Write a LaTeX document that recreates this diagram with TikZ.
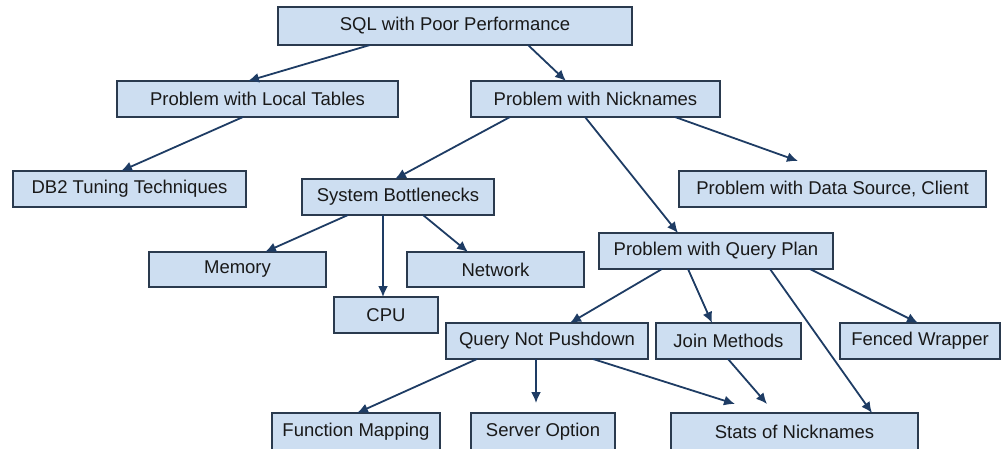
\documentclass[tikz,border=0pt]{standalone}
\usepackage{fontspec}
\setmainfont{Liberation Sans}
\usetikzlibrary{arrows.meta}
\definecolor{boxfill}{RGB}{205,222,241}
\definecolor{boxline}{RGB}{42,58,78}
\definecolor{arrowcol}{RGB}{30,60,100}
\tikzset{
  box/.style={draw=boxline, fill=boxfill, line width=1.6pt, anchor=north west,
    inner sep=0pt, outer sep=0pt, font=\fontsize{18.5}{21}\selectfont, text=black!90},
  conn/.style={draw=arrowcol, line width=1.8pt, -{Latex[length=11pt,width=10pt]}}
}
\begin{document}
\begin{tikzpicture}[x=1pt,y=-1pt]
\useasboundingbox (0,0) rectangle (1003,449);
% boxes
\node[box, minimum width=354pt, minimum height=38pt] (sql) at (278,7) {SQL with Poor Performance};
\node[box, minimum width=281pt, minimum height=36pt] (local) at (117,81) {Problem with Local Tables};
\node[box, minimum width=249pt, minimum height=36pt] (nick) at (471,81) {Problem with Nicknames};
\node[box, minimum width=233pt, minimum height=36pt] (db2) at (13,171) {DB2 Tuning Techniques};
\node[box, minimum width=192pt, minimum height=36pt] (sb) at (302,179) {System Bottlenecks};
\node[box, minimum width=307pt, minimum height=36pt] (ds) at (679,171) {Problem with Data Source, Client};
\node[box, minimum width=234pt, minimum height=36pt] (qp) at (599,233) {Problem with Query Plan};
\node[box, minimum width=177pt, minimum height=35pt] (mem) at (149,252) {Memory};
\node[box, minimum width=177pt, minimum height=35pt] (net) at (407,252) {Network};
\node[box, minimum width=104pt, minimum height=36pt] (cpu) at (334,297) {CPU};
\node[box, minimum width=202pt, minimum height=36pt] (qnp) at (446,323) {Query Not Pushdown};
\node[box, minimum width=145pt, minimum height=36pt] (join) at (656,323) {Join Methods};
\node[box, minimum width=160pt, minimum height=36pt] (fenced) at (840,323) {Fenced Wrapper};
\node[box, minimum width=168pt, minimum height=38pt] (fm) at (272,413) {Function Mapping};
\node[box, minimum width=144pt, minimum height=38pt] (so) at (471,413) {Server Option};
\node[box, minimum width=247pt, minimum height=38pt] (stats) at (671,413) {Stats of Nicknames};
% free arrow ends
\coordinate (dsend) at ([xshift=119pt,yshift=10pt]ds.north west);
\coordinate (soend) at ([xshift=65pt,yshift=10pt]so.north west);
\coordinate (st1end) at ([xshift=64pt,yshift=9pt]stats.north west);
\coordinate (st2end) at ([xshift=96pt,yshift=9pt]stats.north west);
% connectors
\draw[conn] ([xshift=92pt]sql.south west) -- ([xshift=131pt]local.north west);
\draw[conn] ([xshift=250pt]sql.south west) -- ([xshift=95pt]nick.north west);
\draw[conn] ([xshift=126pt]local.south west) -- ([xshift=108pt]db2.north west);
\draw[conn] ([xshift=39pt]nick.south west) -- ([xshift=93pt]sb.north west);
\draw[conn] ([xshift=114pt]nick.south west) -- ([xshift=79pt]qp.north west);
\draw[conn] ([xshift=204pt]nick.south west) -- (dsend);
\draw[conn] ([xshift=46pt]sb.south west) -- ([xshift=116pt]mem.north west);
\draw[conn] ([xshift=81pt]sb.south west) -- ([xshift=49pt]cpu.north west);
\draw[conn] ([xshift=121pt]sb.south west) -- ([xshift=61pt]net.north west);
\draw[conn] ([xshift=63pt]qp.south west) -- ([xshift=124pt]qnp.north west);
\draw[conn] ([xshift=89pt]qp.south west) -- ([xshift=56pt]join.north west);
\draw[conn] ([xshift=171pt]qp.south west) -- ([xshift=201pt]stats.north west);
\draw[conn] ([xshift=211pt]qp.south west) -- ([xshift=78pt]fenced.north west);
\draw[conn] ([xshift=31pt]qnp.south west) -- ([xshift=85pt]fm.north west);
\draw[conn] ([xshift=90pt]qnp.south west) -- (soend);
\draw[conn] ([xshift=147pt]qnp.south west) -- (st1end);
\draw[conn] ([xshift=72pt]join.south west) -- (st2end);
\end{tikzpicture}
\end{document}
